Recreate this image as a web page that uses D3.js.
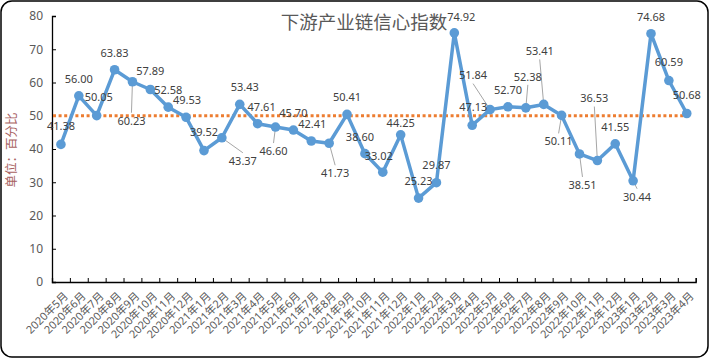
<!DOCTYPE html>
<html>
<head>
<meta charset="utf-8">
<script src="https://cdn.jsdelivr.net/npm/d3@7"></script>
<style>
  body { margin: 0; background: #fff; }
  svg text { font-family: "Noto Sans", "Noto Sans CJK SC", sans-serif; }
</style>
</head>
<body>
<div class="canvas"></div>
<script>
// chart data
const months = [
  '2020年5月', '2020年6月', '2020年7月', '2020年8月', '2020年9月', '2020年10月',
  '2020年11月', '2020年12月', '2021年1月', '2021年2月', '2021年3月', '2021年4月',
  '2021年5月', '2021年6月', '2021年7月', '2021年8月', '2021年9月', '2021年10月',
  '2021年11月', '2021年12月', '2022年1月', '2022年2月', '2022年3月', '2022年4月',
  '2022年5月', '2022年6月', '2022年7月', '2022年8月', '2022年9月', '2022年10月',
  '2022年11月', '2022年12月', '2023年1月', '2023年2月', '2023年3月', '2023年4月'
];
const confidence = [
  41.38, 56.00, 50.05, 63.83, 60.23, 57.89, 52.58, 49.53, 39.52, 43.37, 53.43, 47.61,
  46.60, 45.70, 42.41, 41.73, 50.41, 38.60, 33.02, 44.25, 25.23, 29.87, 74.92, 47.13,
  51.84, 52.70, 52.38, 53.41, 50.11, 38.51, 36.53, 41.55, 30.44, 74.68, 60.59, 50.68
];
const baseline = 50;
const yTicks = [0, 10, 20, 30, 40, 50, 60, 70, 80];
const title = '下游产业链信心指数';
const yTitle = '单位：百分比';

// label placement relative to its point: [dx, dy, leader line?]
const labelOffsets = [
  [0, -18, 0], [0, -17, 0], [2, -18, 0], [0, -17, 0], [-1, 39, 1], [0, -18, 0],
  [0, -17, 0], [1, -17, 0], [0, -18, 0], [21, 23, 1], [5, -17, 0], [4, -17, 0],
  [-2, 24, 1], [0, -17, 0], [1, -17, 0], [6, 30, 1], [0, -17, 0], [-5, -17, 0],
  [-4, -16, 0], [0, -12, 0], [0, -17, 0], [0, -18, 0], [7, -16, 0], [1, -18, 0],
  [-17, -34, 1], [0, -17, 0], [2, -31, 1], [-4, -53, 1], [-3, 26, 1], [3, 31, 1],
  [-3, -62, 1], [0, -17, 0], [4, 16, 1], [0, -17, 0], [0, -18, 0], [0, -18, 0]
];

const width = 710, height = 359;
const margin = {top: 16, right: 14, bottom: 77, left: 52};
const graphWidth = 695.7 - margin.left;
const graphHeight = 282 - margin.top;

const svg = d3.select('.canvas')
  .append('svg')
    .attr('width', width)
    .attr('height', height);

// outer frame
svg.append('rect')
  .attr('x', 1).attr('y', 1)
  .attr('width', width - 3).attr('height', height - 3)
  .attr('rx', 11)
  .attr('fill', '#fff')
  .attr('stroke', '#000')
  .attr('stroke-width', 1.5);

const graph = svg.append('g')
  .attr('transform', `translate(${margin.left}, ${margin.top})`);

const x = d3.scaleBand()
  .domain(months)
  .range([0, graphWidth]);

const xEdges = d3.scaleLinear()
  .domain([0, months.length])
  .range([0, graphWidth]);

const y = d3.scaleLinear()
  .domain([0, 80])
  .range([graphHeight, 0]);

const cx = d => x(d) + x.bandwidth() / 2;

// axes
const yAxis = d3.axisLeft(y)
  .tickValues(yTicks)
  .tickSize(-4)
  .tickPadding(9);

const yAxisGroup = graph.append('g').call(yAxis);
yAxisGroup.select('.domain').attr('stroke', '#000').attr('stroke-width', 1.3);
yAxisGroup.selectAll('line').attr('stroke', '#000');
yAxisGroup.selectAll('text')
  .attr('fill', '#595959')
  .style('font-size', '12px');

const xTickGroup = graph.append('g')
  .attr('transform', `translate(0, ${graphHeight})`)
  .call(d3.axisBottom(xEdges).ticks(months.length).tickSize(-4).tickFormat(''));
xTickGroup.select('.domain').attr('stroke', '#000').attr('stroke-width', 1.3);
xTickGroup.selectAll('line').attr('stroke', '#000');

const xAxisGroup = graph.append('g')
  .attr('transform', `translate(0, ${graphHeight})`)
  .call(d3.axisBottom(x).tickSize(0).tickPadding(0));
xAxisGroup.select('.domain').remove();
xAxisGroup.selectAll('text')
  .attr('fill', '#595959')
  .style('font-size', '11px')
  .attr('text-anchor', 'end')
  .attr('dy', '0.35em')
  .attr('transform', 'translate(5, 12) rotate(-45)');

// 50 reference line
graph.append('line')
  .attr('x1', 1)
  .attr('x2', cx(months[months.length - 1]) + 3)
  .attr('y1', y(baseline))
  .attr('y2', y(baseline))
  .attr('stroke', '#ED7D31')
  .attr('stroke-width', 3)
  .attr('stroke-dasharray', '3 2.6');

// leader lines
const pts = months.map((m, i) => ({m, v: confidence[i], o: labelOffsets[i]}));

graph.selectAll('.leader')
  .data(pts.filter(d => d.o[2]))
  .enter()
  .append('line')
    .attr('class', 'leader')
    .attr('x1', d => cx(d.m))
    .attr('y1', d => y(d.v))
    .attr('x2', d => cx(d.m) + d.o[0])
    .attr('y2', d => y(d.v) + d.o[1] + (d.o[1] < 0 ? 8 : -8))
    .attr('stroke', '#a6a6a6')
    .attr('stroke-width', 1);

// series line
const line = d3.line()
  .x(d => cx(d.m))
  .y(d => y(d.v));

graph.append('path')
  .datum(pts)
  .attr('d', line)
  .attr('fill', 'none')
  .attr('stroke', '#5B9BD5')
  .attr('stroke-width', 3.5)
  .attr('stroke-linejoin', 'round');

graph.selectAll('circle')
  .data(pts)
  .enter()
  .append('circle')
    .attr('cx', d => cx(d.m))
    .attr('cy', d => y(d.v))
    .attr('r', 4.8)
    .attr('fill', '#5B9BD5');

// data labels
graph.selectAll('.label')
  .data(pts)
  .enter()
  .append('text')
    .attr('class', 'label')
    .attr('x', d => cx(d.m) + d.o[0])
    .attr('y', d => y(d.v) + d.o[1])
    .attr('dy', '0.35em')
    .attr('text-anchor', 'middle')
    .attr('fill', '#404040')
    .style('font-size', '11px')
    .text(d => d.v.toFixed(2));

// titles
svg.append('text')
  .attr('x', 364)
  .attr('y', 23)
  .attr('dy', '0.35em')
  .attr('text-anchor', 'middle')
  .attr('fill', '#595959')
  .style('font-size', '18.5px')
  .text(title);

svg.append('text')
  .attr('transform', 'translate(12, 150) rotate(-90)')
  .attr('dy', '0.35em')
  .attr('text-anchor', 'middle')
  .attr('fill', '#a8625f')
  .style('font-size', '12.5px')
  .text(yTitle);
</script>
</body>
</html>
